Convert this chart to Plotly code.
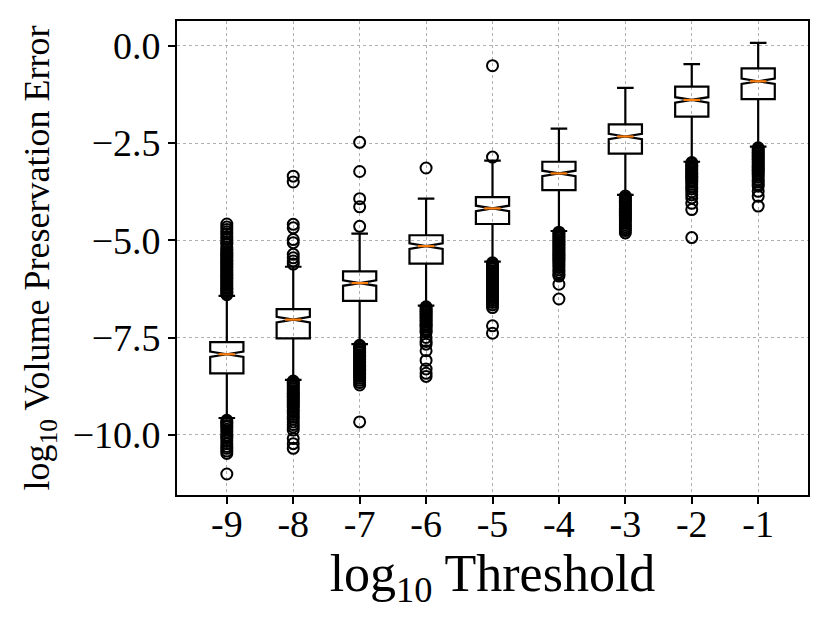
import plotly.graph_objects as go

# log10 thresholds (box positions 1..9)
thresholds = ["-9", "-8", "-7", "-6", "-5", "-4", "-3", "-2", "-1"]
positions = [1, 2, 3, 4, 5, 6, 7, 8, 9]

# box statistics (log10 volume preservation error)
lower_fence = [-9.57, -8.59, -7.67, -6.68, -5.55, -4.76, -3.83, -2.98, -2.59]
q1 = [-8.42, -7.52, -6.56, -5.60, -4.58, -3.71, -2.77, -1.82, -1.37]
median = [-7.93, -7.04, -6.10, -5.15, -4.18, -3.28, -2.33, -1.39, -0.91]
q3 = [-7.62, -6.77, -5.80, -4.87, -3.89, -2.98, -2.02, -1.05, -0.58]
upper_fence = [-6.43, -5.68, -4.83, -3.93, -2.95, -2.13, -1.08, -0.47, 0.08]
notch_span = [0.07, 0.07, 0.07, 0.07, 0.07, 0.07, 0.07, 0.07, 0.07]

# fliers per threshold
outliers_m9 = [-4.58, -4.66, -4.72, -4.78, -4.83, -4.90, -4.97, -5.05, -5.10, -5.17,
               -5.23, -5.28, -5.32, -5.36, -5.40, -5.44, -5.48, -5.52, -5.56, -5.60,
               -5.64, -5.68, -5.72, -5.76, -5.80, -5.84, -5.88, -5.92, -5.96, -6.00,
               -6.04, -6.08, -6.12, -6.16, -6.20, -6.24, -6.28, -6.32, -6.36, -6.40,
               -9.63, -9.67, -9.71, -9.76, -9.80, -9.86, -9.93, -10.01, -10.06, -10.10,
               -10.16, -10.23, -10.30, -10.35, -10.42, -10.48, -11.01]
outliers_m8 = [-3.35, -3.50, -4.59, -4.68, -4.98, -5.06, -5.36, -5.45, -5.53, -5.61,
               -8.62, -8.66, -8.70, -8.74, -8.78, -8.82, -8.86, -8.90, -8.94, -8.98,
               -9.02, -9.06, -9.10, -9.14, -9.18, -9.22, -9.26, -9.30, -9.36, -9.42,
               -9.48, -9.54, -9.60, -9.67, -9.74, -9.80, -9.88, -10.10, -10.23, -10.35]
outliers_m7 = [-2.48, -3.23, -3.93, -4.14, -4.64,
               -7.70, -7.74, -7.78, -7.82, -7.86, -7.90, -7.94, -7.98, -8.02, -8.06,
               -8.10, -8.14, -8.18, -8.22, -8.26, -8.30, -8.34, -8.38, -8.42, -8.46,
               -8.50, -8.55, -8.60, -8.66, -8.72, -9.67]
outliers_m6 = [-3.14,
               -6.71, -6.75, -6.79, -6.83, -6.87, -6.91, -6.95, -6.99, -7.03, -7.07,
               -7.11, -7.15, -7.19, -7.23, -7.28, -7.33, -7.37, -7.50, -7.60, -7.67,
               -7.84, -8.09, -8.31, -8.42, -8.50]
outliers_m5 = [-0.51, -2.86,
               -5.58, -5.62, -5.66, -5.70, -5.74, -5.78, -5.82, -5.86, -5.90, -5.94,
               -5.98, -6.02, -6.06, -6.10, -6.14, -6.18, -6.22, -6.26, -6.30, -6.34,
               -6.38, -6.42, -6.46, -6.50, -6.55, -6.60, -6.66, -6.73, -7.20, -7.39]
outliers_m4 = [-4.79, -4.83, -4.87, -4.91, -4.95, -4.99, -5.03, -5.07, -5.11, -5.15,
               -5.19, -5.23, -5.27, -5.31, -5.35, -5.39, -5.43, -5.47, -5.51, -5.55,
               -5.60, -5.65, -5.70, -5.76, -5.82, -5.88, -5.92, -6.13, -6.51]
outliers_m3 = [-3.86, -3.90, -3.94, -3.98, -4.02, -4.06, -4.10, -4.14, -4.18, -4.22,
               -4.26, -4.30, -4.34, -4.38, -4.42, -4.46, -4.50, -4.55, -4.60, -4.65,
               -4.70, -4.75, -4.81]
outliers_m2 = [-3.00, -3.04, -3.08, -3.12, -3.16, -3.20, -3.24, -3.28, -3.32, -3.36,
               -3.40, -3.45, -3.50, -3.56, -3.62, -3.68, -3.75, -3.83, -3.91, -4.05,
               -4.21, -4.93]
outliers_m1 = [-2.62, -2.66, -2.70, -2.74, -2.78, -2.82, -2.86, -2.90, -2.94, -2.98,
               -3.02, -3.06, -3.10, -3.14, -3.18, -3.22, -3.27, -3.32, -3.38, -3.44,
               -3.50, -3.56, -3.61, -3.74, -3.87, -4.12]

outliers = [outliers_m9, outliers_m8, outliers_m7, outliers_m6, outliers_m5,
            outliers_m4, outliers_m3, outliers_m2, outliers_m1]

BOX_W = 0.5

fig = go.Figure()

# notched boxes from precomputed stats
fig.add_trace(go.Box(
    x=positions, q1=q1, median=median, q3=q3,
    lowerfence=lower_fence, upperfence=upper_fence,
    notched=True, notchspan=notch_span, notchwidth=0.5,
    width=BOX_W, whiskerwidth=0.5,
    boxpoints=False,
    line=dict(color="black", width=2.2),
    fillcolor="rgba(0,0,0,0)",
    hoverinfo="skip",
    showlegend=False,
))

# orange median lines (matplotlib style)
med_x, med_y = [], []
for p, m in zip(positions, median):
    med_x += [p - BOX_W / 4, p + BOX_W / 4, None]
    med_y += [m, m, None]
fig.add_trace(go.Scatter(
    x=med_x, y=med_y, mode="lines",
    line=dict(color="#ff7f0e", width=2.2),
    hoverinfo="skip", showlegend=False,
))

# fliers
fx, fy = [], []
for p, vals in zip(positions, outliers):
    fx += [p] * len(vals)
    fy += vals
fig.add_trace(go.Scatter(
    x=fx, y=fy, mode="markers",
    marker=dict(symbol="circle-open", size=11, color="black",
                line=dict(width=2, color="black")),
    showlegend=False,
))

FONT = "Liberation Serif"

# the page body adds an 8px offset, so the figure is 8px smaller than the window
fig.update_layout(
    width=822, height=615,
    paper_bgcolor="white", plot_bgcolor="white",
    margin=dict(l=169, r=22, t=11, b=128),
    font=dict(family=FONT, color="black"),
    xaxis=dict(
        range=[0.25, 9.75],
        tickmode="array", tickvals=positions, ticktext=thresholds,
        tickfont=dict(size=38), ticklabelstandoff=-12,
        ticks="outside", ticklen=7, tickwidth=1.6, tickcolor="black",
        showline=True, linecolor="black", linewidth=1.6, mirror=True,
        showgrid=True, gridcolor="#b0b0b0", griddash="dot", gridwidth=1,
        zeroline=False,
        title=dict(text="log<sub>10</sub> Threshold", font=dict(size=52), standoff=0),
    ),
    yaxis=dict(
        range=[-11.55, 0.64],
        tickmode="array", tickvals=[0, -2.5, -5, -7.5, -10],
        ticktext=["0.0", "\u22122.5", "\u22125.0", "\u22127.5", "\u221210.0"],
        tickfont=dict(size=38),
        ticks="outside", ticklen=7, tickwidth=1.6, tickcolor="black",
        showline=True, linecolor="black", linewidth=1.6, mirror=True,
        showgrid=True, gridcolor="#b0b0b0", griddash="dot", gridwidth=1,
        zeroline=False,
        title=dict(text="log<sub>10</sub> Volume Preservation Error", font=dict(size=36), standoff=12),
    ),
)

fig.write_html("out.html")
